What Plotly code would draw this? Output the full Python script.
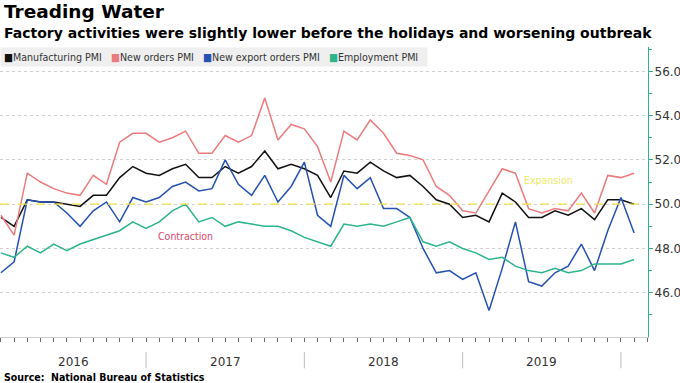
import plotly.graph_objects as go

# Monthly data, Jan 2016 .. Jan 2020 (49 months)
months = [f"{y}-{m:02d}" for y in range(2016, 2020) for m in range(1, 13)] + ["2020-01"]

manufacturing = [49.4, 49.0, 50.2, 50.1, 50.1, 50.0, 49.9, 50.4, 50.4, 51.2, 51.7, 51.4,
                 51.3, 51.6, 51.8, 51.2, 51.2, 51.7, 51.4, 51.7, 52.4, 51.6, 51.8, 51.6,
                 51.3, 50.3, 51.5, 51.4, 51.9, 51.5, 51.2, 51.3, 50.8, 50.2, 50.0, 49.4,
                 49.5, 49.2, 50.5, 50.1, 49.4, 49.4, 49.7, 49.5, 49.8, 49.3, 50.2, 50.2,
                 50.0]
new_orders = [49.5, 48.6, 51.4, 51.0, 50.7, 50.5, 50.4, 51.3, 50.9, 52.8, 53.2, 53.2,
              52.8, 53.0, 53.3, 52.3, 52.3, 53.1, 52.8, 53.1, 54.8, 52.9, 53.6, 53.4,
              52.6, 51.0, 53.3, 52.9, 53.8, 53.2, 52.3, 52.2, 52.0, 50.8, 50.4, 49.7,
              49.6, 50.6, 51.6, 51.4, 49.8, 49.6, 49.8, 49.7, 50.5, 49.6, 51.3, 51.2,
              51.4]
export_orders = [46.9, 47.4, 50.2, 50.1, 50.1, 49.6, 49.0, 49.7, 50.1, 49.2, 50.3, 50.1,
                 50.3, 50.8, 51.0, 50.6, 50.7, 52.0, 50.9, 50.4, 51.3, 50.1, 50.8, 51.9,
                 49.5, 49.0, 51.3, 50.7, 51.2, 49.8, 49.8, 49.4, 48.0, 46.9, 47.0, 46.6,
                 46.9, 45.2, 47.1, 49.2, 46.5, 46.3, 46.9, 47.2, 48.2, 47.0, 48.8, 50.3,
                 48.7]
employment = [47.8, 47.6, 48.1, 47.8, 48.2, 47.9, 48.2, 48.4, 48.6, 48.8, 49.2, 48.9,
              49.2, 49.7, 50.0, 49.2, 49.4, 49.0, 49.2, 49.1, 49.0, 49.0, 48.8, 48.5,
              48.3, 48.1, 49.1, 49.0, 49.1, 49.0, 49.2, 49.4, 48.3, 48.1, 48.3, 48.0,
              47.8, 47.5, 47.6, 47.2, 47.0, 46.9, 47.1, 46.9, 47.0, 47.3, 47.3, 47.3,
              47.5]

years = ["2016", "2017", "2018", "2019"]
y_ticks = [46, 48, 50, 52, 54, 56]
threshold = 50

series = [
    ("Manufacturing PMI", manufacturing, "#111111"),
    ("New orders PMI", new_orders, "#ec7b7d"),
    ("New export orders PMI", export_orders, "#2451b2"),
    ("Employment PMI", employment, "#2db48d"),
]

COND = "DejaVu Sans Condensed, Liberation Sans, sans-serif"
FONT = "DejaVu Sans, Verdana, sans-serif"
x = list(range(len(months)))

fig = go.Figure()
for name, vals, col in series:
    fig.add_trace(go.Scatter(x=x, y=vals, mode="lines", name=name,
                             line=dict(color=col, width=1.5), showlegend=False,
                             hovertemplate="%{text}: %{y}<extra>" + name + "</extra>",
                             text=months))

# threshold line
fig.add_shape(type="line", xref="paper", x0=0, x1=1, yref="y", y0=threshold, y1=threshold,
              line=dict(color="#eee24a", width=1.2, dash="dash"), layer="above")

# year labels & separators
for k, yr in enumerate(years):
    start = 12 * k - 1 if k > 0 else 0
    end = 12 * k + 11
    fig.add_annotation(x=(start + end) / 2, xref="x", y=-0.086, yref="paper",
                       text=yr, showarrow=False, font=dict(size=12, color="#333", family=FONT),
                       yanchor="middle")
    fig.add_shape(type="line", xref="x", x0=end, x1=end, yref="paper", y0=-0.052, y1=-0.108,
                  line=dict(color="#bbbbbb", width=1))

# legend as annotation
leg = "   ".join(f"<span style='color:{c}'>■</span>{n}" for n, _, c in series)
fig.add_annotation(x=0, xref="paper", y=0.967, yref="paper", xanchor="left", yanchor="middle",
                   text=leg + "  ", showarrow=False, bgcolor="#efefef", borderpad=3,
                   font=dict(size=10.6, color="#333", family=COND))

# region labels
fig.add_annotation(x=41.5, xref="x", y=51.1, yref="y", text="Expansion", showarrow=False,
                   font=dict(size=10.5, color="#eeea66", family=COND))
fig.add_annotation(x=14, xref="x", y=48.55, yref="y", text="Contraction", showarrow=False,
                   font=dict(size=10.5, color="#d9486d", family=COND))

# titles
fig.add_annotation(x=0.003, xref="paper", y=1.121, yref="paper", xanchor="left", yanchor="middle",
                   text="<b>Treading Water</b>", showarrow=False,
                   font=dict(size=18.5, color="#000", family=FONT))
fig.add_annotation(x=0.003, xref="paper", y=1.049, yref="paper", xanchor="left", yanchor="middle",
                   text="<b>Factory activities were slightly lower before the holidays and worsening outbreak</b>",
                   showarrow=False, font=dict(size=14, color="#000", family=FONT))
fig.add_annotation(x=0.003, xref="paper", y=-0.138, yref="paper", xanchor="left", yanchor="middle",
                   text="<b>Source:  National Bureau of Statistics</b>", showarrow=False,
                   font=dict(size=10.5, color="#000", family=COND))

fig.update_layout(
    width=680, height=383,
    margin=dict(l=0, r=32, t=47, b=46, autoexpand=False),
    paper_bgcolor="white", plot_bgcolor="white",
    font=dict(family=FONT, color="#333"),
    showlegend=False,
    xaxis=dict(range=[-0.07, 49.05], tickmode="linear", tick0=0, dtick=1, automargin=False,
               ticks="outside", ticklen=4, tickcolor="#666", showticklabels=False,
               showgrid=False, zeroline=False, showline=True, linecolor="#cccccc", linewidth=1),
    yaxis=dict(range=[44, 57.1], side="right", tickvals=y_ticks, automargin=False,
               ticktext=[f"{v:.1f}" for v in y_ticks],
               ticks="outside", ticklen=4, tickcolor="#2db48d", ticklabelstandoff=-1,
               minor=dict(tickvals=[45, 47, 49, 51, 53, 55, 57], ticks="outside", ticklen=3,
                          tickcolor="#2db48d", showgrid=False),
               showline=True, linecolor="#2db48d", linewidth=1.2,
               showgrid=True, gridcolor="#d0d0d0", griddash="dot", gridwidth=1,
               zeroline=False, tickfont=dict(size=12, color="#333", family=FONT)),
)

fig.write_html("out.html", config={"displayModeBar": False},
               post_script="document.body.style.margin='0';document.body.style.padding='0';")
